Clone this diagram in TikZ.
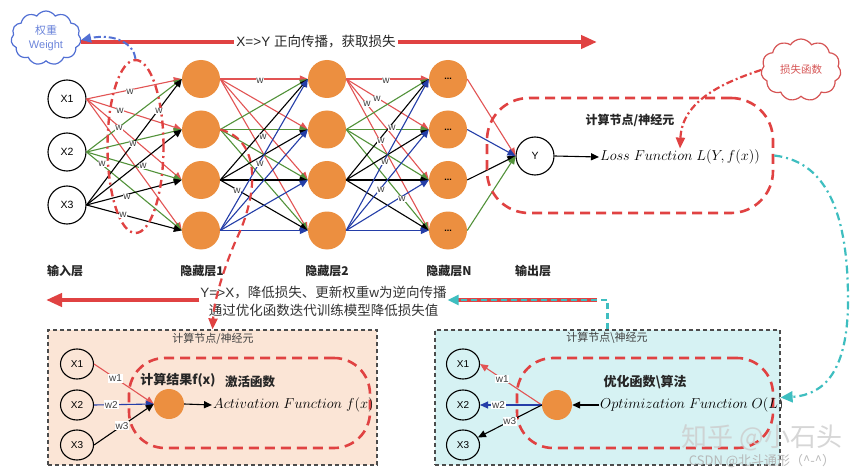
\documentclass[tikz,border=0pt]{standalone}
\usepackage{fontspec}
\setmainfont{Liberation Sans}
\newfontfamily\cjk{Noto Sans CJK SC}
\usetikzlibrary{arrows.meta,shapes.symbols,shapes.geometric}
\definecolor{myred}{RGB}{224,66,66}
\definecolor{nred}{RGB}{226,84,84}
\definecolor{ngreen}{RGB}{82,146,58}
\definecolor{nblue}{RGB}{36,62,168}
\definecolor{orangef}{RGB}{236,143,64}
\definecolor{peach}{RGB}{251,229,214}
\definecolor{cyanf}{RGB}{214,242,243}
\definecolor{cyanl}{RGB}{62,190,192}
\definecolor{cloudblue}{RGB}{82,112,212}
\definecolor{cloudred}{RGB}{214,84,84}
\tikzset{
  hid/.style={circle, fill=orangef, minimum size=38pt, inner sep=0pt, font=\bfseries\fontsize{9}{10}\selectfont},
  inp/.style={circle, draw, line width=1.1pt, minimum size=38pt, inner sep=0pt, font=\fontsize{10.5}{12}\selectfont},
  sinp/.style={ellipse, draw, line width=1.1pt, minimum width=33pt, minimum height=30pt, inner sep=0pt, font=\fontsize{10}{12}\selectfont},
  sor/.style={circle, fill=orangef, minimum size=30pt, inner sep=0pt},
  net/.style={line width=1.1pt, -{Triangle[length=8pt,width=7pt]}},
  snet/.style={line width=1.1pt, -{Triangle[length=8pt,width=7pt]}},
  wl/.style={font=\fontsize{10}{12}\selectfont, fill=white, inner sep=0.8pt, text=black!75},
  bigred/.style={draw=myred, line width=4.2pt},
  redbox/.style={draw=myred, line width=2.6pt, dash pattern=on 10pt off 6pt},
  lay/.style={font=\cjk\bfseries\fontsize{12}{14}\selectfont, text=black!85},
  outbox/.style={draw=black!70, dash pattern=on 4pt off 3pt, line width=1.2pt, inner sep=0pt, minimum height=135pt},
  mathtxt/.style={font=\fontsize{14.2}{16}\selectfont, inner sep=1pt},
}
\begin{document}
\begin{tikzpicture}[x=1pt,y=-1pt]
\useasboundingbox[fill=white] (0,0) rectangle (865,476);

% ---------- network nodes ----------
\node[inp] (x1) at (67,99) {X1};
\node[inp] (x2) at (67,152) {X2};
\node[inp] (x3) at (67,205) {X3};
\foreach \i in {1,...,4} {
  \node[hid] (h1\i) at (201,{79+50.5*(\i-1)}) {};
  \node[hid] (h2\i) at (327,{79+50.5*(\i-1)}) {};
  \node[hid] (hn\i) at (448,{79+50.5*(\i-1)}) {...};
}
\node[inp] (y) at (535,156) {Y};

% ---------- network edges ----------
\foreach \s/\c in {1/nred,2/ngreen,3/black}
  \foreach \t in {1,...,4}
    \draw[net,\c] (x\s.east) -- (h1\t.west);
\foreach \s/\c in {1/nred,2/ngreen,3/black,4/nblue}
  \foreach \t in {1,...,4} {
    \draw[net,\c] (h1\s.east) -- (h2\t.west);
    \draw[net,\c] (h2\s.east) -- (hn\t.west);
  }
\foreach \s/\c in {1/nred,2/nblue,3/black,4/ngreen}
  \draw[net,\c] (hn\s.east) -- (y.west);

% weight ellipse
\node[ellipse, draw=myred, line width=2.4pt, dash pattern=on 8pt off 4pt on 2pt off 4pt,
      minimum width=56pt, minimum height=173pt, inner sep=0pt] (wellipse) at (135.5,146.5) {};

% w labels
\foreach \p [count=\i] in {(130,92),(120,111),(119,128),(159,111),(133,144),(143,166),(102,164),(127,197),(123,215),
  (260,81),(263,137),(260,164),(237,191),
  (386,81),(377,99),(367,104),(392,128),(381,141),(385,162),(381,190),(402,199)}
  \node[wl] (w\i) at \p {w};

% ---------- top row ----------
\node[cloud, cloud puffs=11, cloud puff arc=115, cloud ignores aspect, draw=cloudblue, line width=1.2pt,
      minimum width=70pt, minimum height=54pt, inner sep=0pt, align=center, text=cloudblue!85,
      font=\fontsize{11}{13.5}\selectfont] (weight) at (46,38) {{\cjk 权重}\\Weight};
\node[font=\fontsize{13.5}{16}\selectfont, text=black!85, inner sep=2pt] (fwd) at (316,42) {X=>Y {\cjk 正向传播，获取损失}};
\coordinate (fwdend) at (597,42);
\draw[bigred] (weight.east |- fwd.west) -- (fwd.west);
\draw[bigred, -{Triangle[length=16pt,width=13pt]}] (fwd.east) -- (fwdend);
\draw[draw=cloudblue, line width=2pt, dash pattern=on 7pt off 3pt on 2pt off 3pt, -{Triangle[length=10pt,width=9pt]}]
  (wellipse.north) .. controls (134,44) and (115,33) .. (weight.east |- 0,40);

% ---------- loss box ----------
\node[redbox, rounded corners=42pt, minimum width=286pt, minimum height=115pt, inner sep=0pt] (lossbox) at (630,155.5) {};
\node[font=\cjk\bfseries\fontsize{12}{14}\selectfont, text=black!85] (lbt) at (630,120) {计算节点/神经元};
\node[mathtxt] (lossfn) at (680,157) {$Loss\ Function\ L(Y,f(x))$};
\draw[line width=1.1pt, -{Triangle[length=8pt,width=7pt]}] (y.east) -- (lossfn.west);
\node[cloud, cloud puffs=11, cloud puff arc=115, cloud ignores aspect, draw=cloudred, line width=1.2pt,
      minimum width=80pt, minimum height=62pt, inner sep=0pt, text=cloudred,
      font=\cjk\fontsize{10.5}{12}\selectfont] (lcloud) at (801,70) {损失函数};
\draw[draw=myred, line width=2.2pt, dash pattern=on 7pt off 3pt on 2pt off 3pt, -{Triangle[length=11pt,width=9pt]}]
  (lcloud.west) .. controls (725,82) and (682,100) .. (lossfn.north);

% ---------- layer labels ----------
\node[lay] (lin) at (65,271) {输入层};
\node[lay] (lh1) at (202,271) {隐藏层1};
\node[lay] (lh2) at (327,271) {隐藏层2};
\node[lay] (lhn) at (449,271) {隐藏层N};
\node[lay] (lout) at (533,271) {输出层};

% ---------- back propagation ----------
\node[align=center, font=\fontsize{13.5}{18}\selectfont, text=black!80, inner sep=1pt] (bp) at (323.5,301)
  {Y=>X{\cjk ，降低损失、更新权重}w{\cjk 为逆向传播}\\{\cjk 通过优化函数迭代训练模型降低损失值}};
\coordinate (bpleft) at (46,300);
\coordinate (bpright) at (597,300);
\draw[bigred, -{Triangle[length=16pt,width=13pt]}] (bp.west |- bpleft) -- (bpleft);

% ---------- left box ----------
\node[outbox, fill=peach, minimum width=329pt] (lbox) at (212.5,397.5) {};
\node[font=\cjk\fontsize{11}{13}\selectfont, text=black!75] (ltitle) at (213,339) {计算节点/神经元};
\node[redbox, rounded corners=36pt, minimum width=241pt, minimum height=90pt, inner sep=0pt] (linner) at (249.5,403) {};
\node[sinp] (lx1) at (77,364) {X1};
\node[sinp] (lx2) at (77,405) {X2};
\node[sinp] (lx3) at (77,445) {X3};
\node[sor] (lor) at (169,404) {};
\draw[snet, nred] (lx1.east) -- node[wl, pos=0.36] (lw1) {w1} (lor.west);
\draw[snet, nblue] (lx2.east) -- node[wl, pos=0.29] (lw2) {w2} (lor.west);
\draw[snet, black] (lx3.east) -- node[wl, pos=0.47] (lw3) {w3} (lor.west);
\node[font=\cjk\bfseries\fontsize{13}{15}\selectfont, text=black!85] (lres) at (178,380) {计算结果f(x)};
\node[font=\cjk\bfseries\fontsize{12.5}{15}\selectfont, text=black!85] (lact) at (250,382) {激活函数};
\node[mathtxt, anchor=west] (act) at (212,405) {$Activation\ Function\ f(x)$};
\draw[line width=1.1pt, -{Triangle[length=8pt,width=7pt]}] (lor.east) -- (act.west);
\draw[draw=myred, line width=2.2pt, dash pattern=on 8pt off 5pt, -{Triangle[length=11pt,width=9pt]}]
  (h12.east) .. controls (262,140) and (258,195) .. (236,240) .. controls (224,268) and (214,300) .. (lbox.north);

% ---------- right box ----------
\node[outbox, fill=cyanf, minimum width=345pt] (rbox) at (607.5,397.5) {};
\node[font=\cjk\fontsize{11}{13}\selectfont, text=black!75] (rtitle) at (607,338) {计算节点\textbackslash 神经元};
\node[redbox, rounded corners=36pt, minimum width=256pt, minimum height=90pt, inner sep=0pt] (rinner) at (645,403) {};
\node[sinp] (rx1) at (463,364) {X1};
\node[sinp] (rx2) at (463,405) {X2};
\node[sinp] (rx3) at (463,445) {X3};
\node[sor] (ror) at (557,405) {};
\draw[snet, nred] (ror.west) -- node[wl, pos=0.64] (rw1) {w1} (rx1.east);
\draw[snet, nblue] (ror.west) -- node[wl, pos=0.7] (rw2) {w2} (rx2.east);
\draw[snet, black] (ror.west) -- node[wl, pos=0.5] (rw3) {w3} (rx3);
\node[font=\cjk\bfseries\fontsize{13}{15}\selectfont, text=black!85] (ropt) at (645,382) {优化函数\textbackslash 算法};
\node[mathtxt, anchor=west] (opt) at (599,405) {$Optimization\ Function\ O(L)$};
\draw[line width=1.1pt, -{Triangle[length=8pt,width=7pt]}] (opt.west) -- (ror.east);

% back-prop right arrow (red + cyan)
\draw[bigred] ([xshift=8pt]bp.east |- bpright) -- (bpright);
\draw[draw=cyanl, line width=2.4pt, dash pattern=on 6pt off 4pt, -{Triangle[length=11pt,width=10pt]}]
  (rbox.north) |- (bp.east |- bpright);

% cyan dash-dot from loss box to right box
\draw[draw=cyanl, line width=2.2pt, dash pattern=on 8pt off 4pt on 2pt off 4pt, -{Triangle[length=12pt,width=11pt]}]
  (lossbox.east) .. controls (830,162) and (848,220) .. (848,300) .. controls (848,370) and (825,395) .. (rbox.east);

% watermark
\node[font=\cjk\fontsize{26}{28}\selectfont, text=gray!40, opacity=0.8] (wm1) at (762,438) {知乎 @小石头};
\node[font=\cjk\fontsize{13}{15}\selectfont, text=gray!60, opacity=0.9] (wm2) at (762,461) {CSDN @北斗通形（\^{}-\^{}）};
\end{tikzpicture}
\end{document}
